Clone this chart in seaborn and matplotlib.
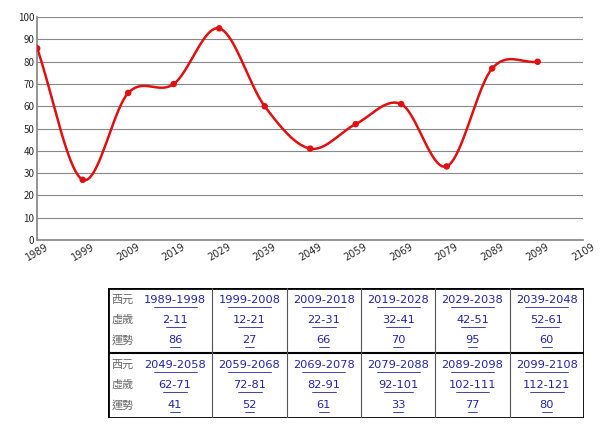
import matplotlib
matplotlib.use("Agg")
import matplotlib.pyplot as plt
import seaborn as sns
import numpy as np
import pandas as pd

years = [1989, 1999, 2009, 2019, 2029, 2039, 2049, 2059, 2069, 2079, 2089, 2099]
scores = [86, 27, 66, 70, 95, 60, 41, 52, 61, 33, 77, 80]
periods = ["1989-1998", "1999-2008", "2009-2018", "2019-2028", "2029-2038", "2039-2048",
           "2049-2058", "2059-2068", "2069-2078", "2079-2088", "2089-2098", "2099-2108"]
ages = ["2-11", "12-21", "22-31", "32-41", "42-51", "52-61",
        "62-71", "72-81", "82-91", "92-101", "102-111", "112-121"]
row_names = ["西元", "虛歲", "運勢"]
tick_years = list(range(1989, 2110, 10))

sns.set_theme(style="white")
plt.rcParams['font.family'] = ['Noto Sans CJK TC', 'DejaVu Sans']

df = pd.DataFrame({"year": years, "score": scores})

# smooth curve through the points (Catmull-Rom)
def smooth(x, y, n=20):
    x = np.asarray(x, float); y = np.asarray(y, float)
    px = np.concatenate([[2*x[0]-x[1]], x, [2*x[-1]-x[-2]]])
    py = np.concatenate([[2*y[0]-y[1]], y, [2*y[-1]-y[-2]]])
    xs, ys = [], []
    t = np.linspace(0, 1, n)
    for i in range(1, len(px) - 2):
        for p, out in ((px, xs), (py, ys)):
            p0, p1, p2, p3 = p[i-1], p[i], p[i+1], p[i+2]
            out.extend(0.5*((2*p1) + (-p0+p2)*t + (2*p0-5*p1+4*p2-p3)*t**2 + (-p0+3*p1-3*p2+p3)*t**3))
    return np.array(xs), np.array(ys)

fig = plt.figure(figsize=(6, 4.3), dpi=100)
ax = fig.add_axes([0.062, 0.442, 0.91, 0.518])
sx, sy = smooth(df["year"], df["score"])
ax.plot(sx, sy, color="#e01010", lw=1.8)
sns.scatterplot(data=df, x="year", y="score", color="#e01010", s=22, edgecolor="none", ax=ax, zorder=3)
ax.set_xlim(1989, 2109)
ax.set_ylim(0, 100)
ax.set_yticks(range(0, 101, 10))
ax.set_xticks(tick_years)
ax.set_xticklabels([str(y) for y in tick_years], rotation=30, fontsize=7, family='DejaVu Sans')
ax.tick_params(axis='y', labelsize=7, length=0, pad=2)
ax.tick_params(axis='x', length=0, pad=1)
ax.grid(axis='y', color="#888888", lw=0.8)
ax.set_xlabel(""); ax.set_ylabel("")
for s in ["top", "right"]:
    ax.spines[s].set_visible(False)
ax.spines["left"].set_color("#888888")
ax.spines["bottom"].set_color("#888888")

# table
tx = fig.add_axes([108/600, 1-418/430, 476/600, 130/430])
tx.set_xlim(0, 476); tx.set_ylim(130, 0); tx.axis("off")
tx.add_patch(plt.Rectangle((0, 0), 476, 130, fill=False, lw=2, color="black"))
tx.plot([0, 476], [65, 65], color="black", lw=1.5)
first_w = 30
col_w = (476 - first_w) / 6
for c in range(1, 6):
    x = first_w + c * col_w
    tx.plot([x, x], [0, 130], color="#555555", lw=0.8)
for b in range(2):
    for r, name in enumerate(row_names):
        y = b * 65 + 12 + r * 20
        tx.text(15, y, name, ha="center", va="center", fontsize=8, color="#666666")
        for c in range(6):
            i = b * 6 + c
            label = [periods[i], ages[i], str(scores[i])][r]
            cx = first_w + c * col_w + col_w / 2
            tx.text(cx, y, label, ha="center", va="center", fontsize=8.2, color="#2222aa",
                    family='DejaVu Sans')
            w = len(label) * 4.8
            tx.plot([cx - w/2, cx + w/2], [y + 6.5, y + 6.5], color="#2222aa", lw=0.6)

fig.savefig("out.png", dpi=100, facecolor="white")
